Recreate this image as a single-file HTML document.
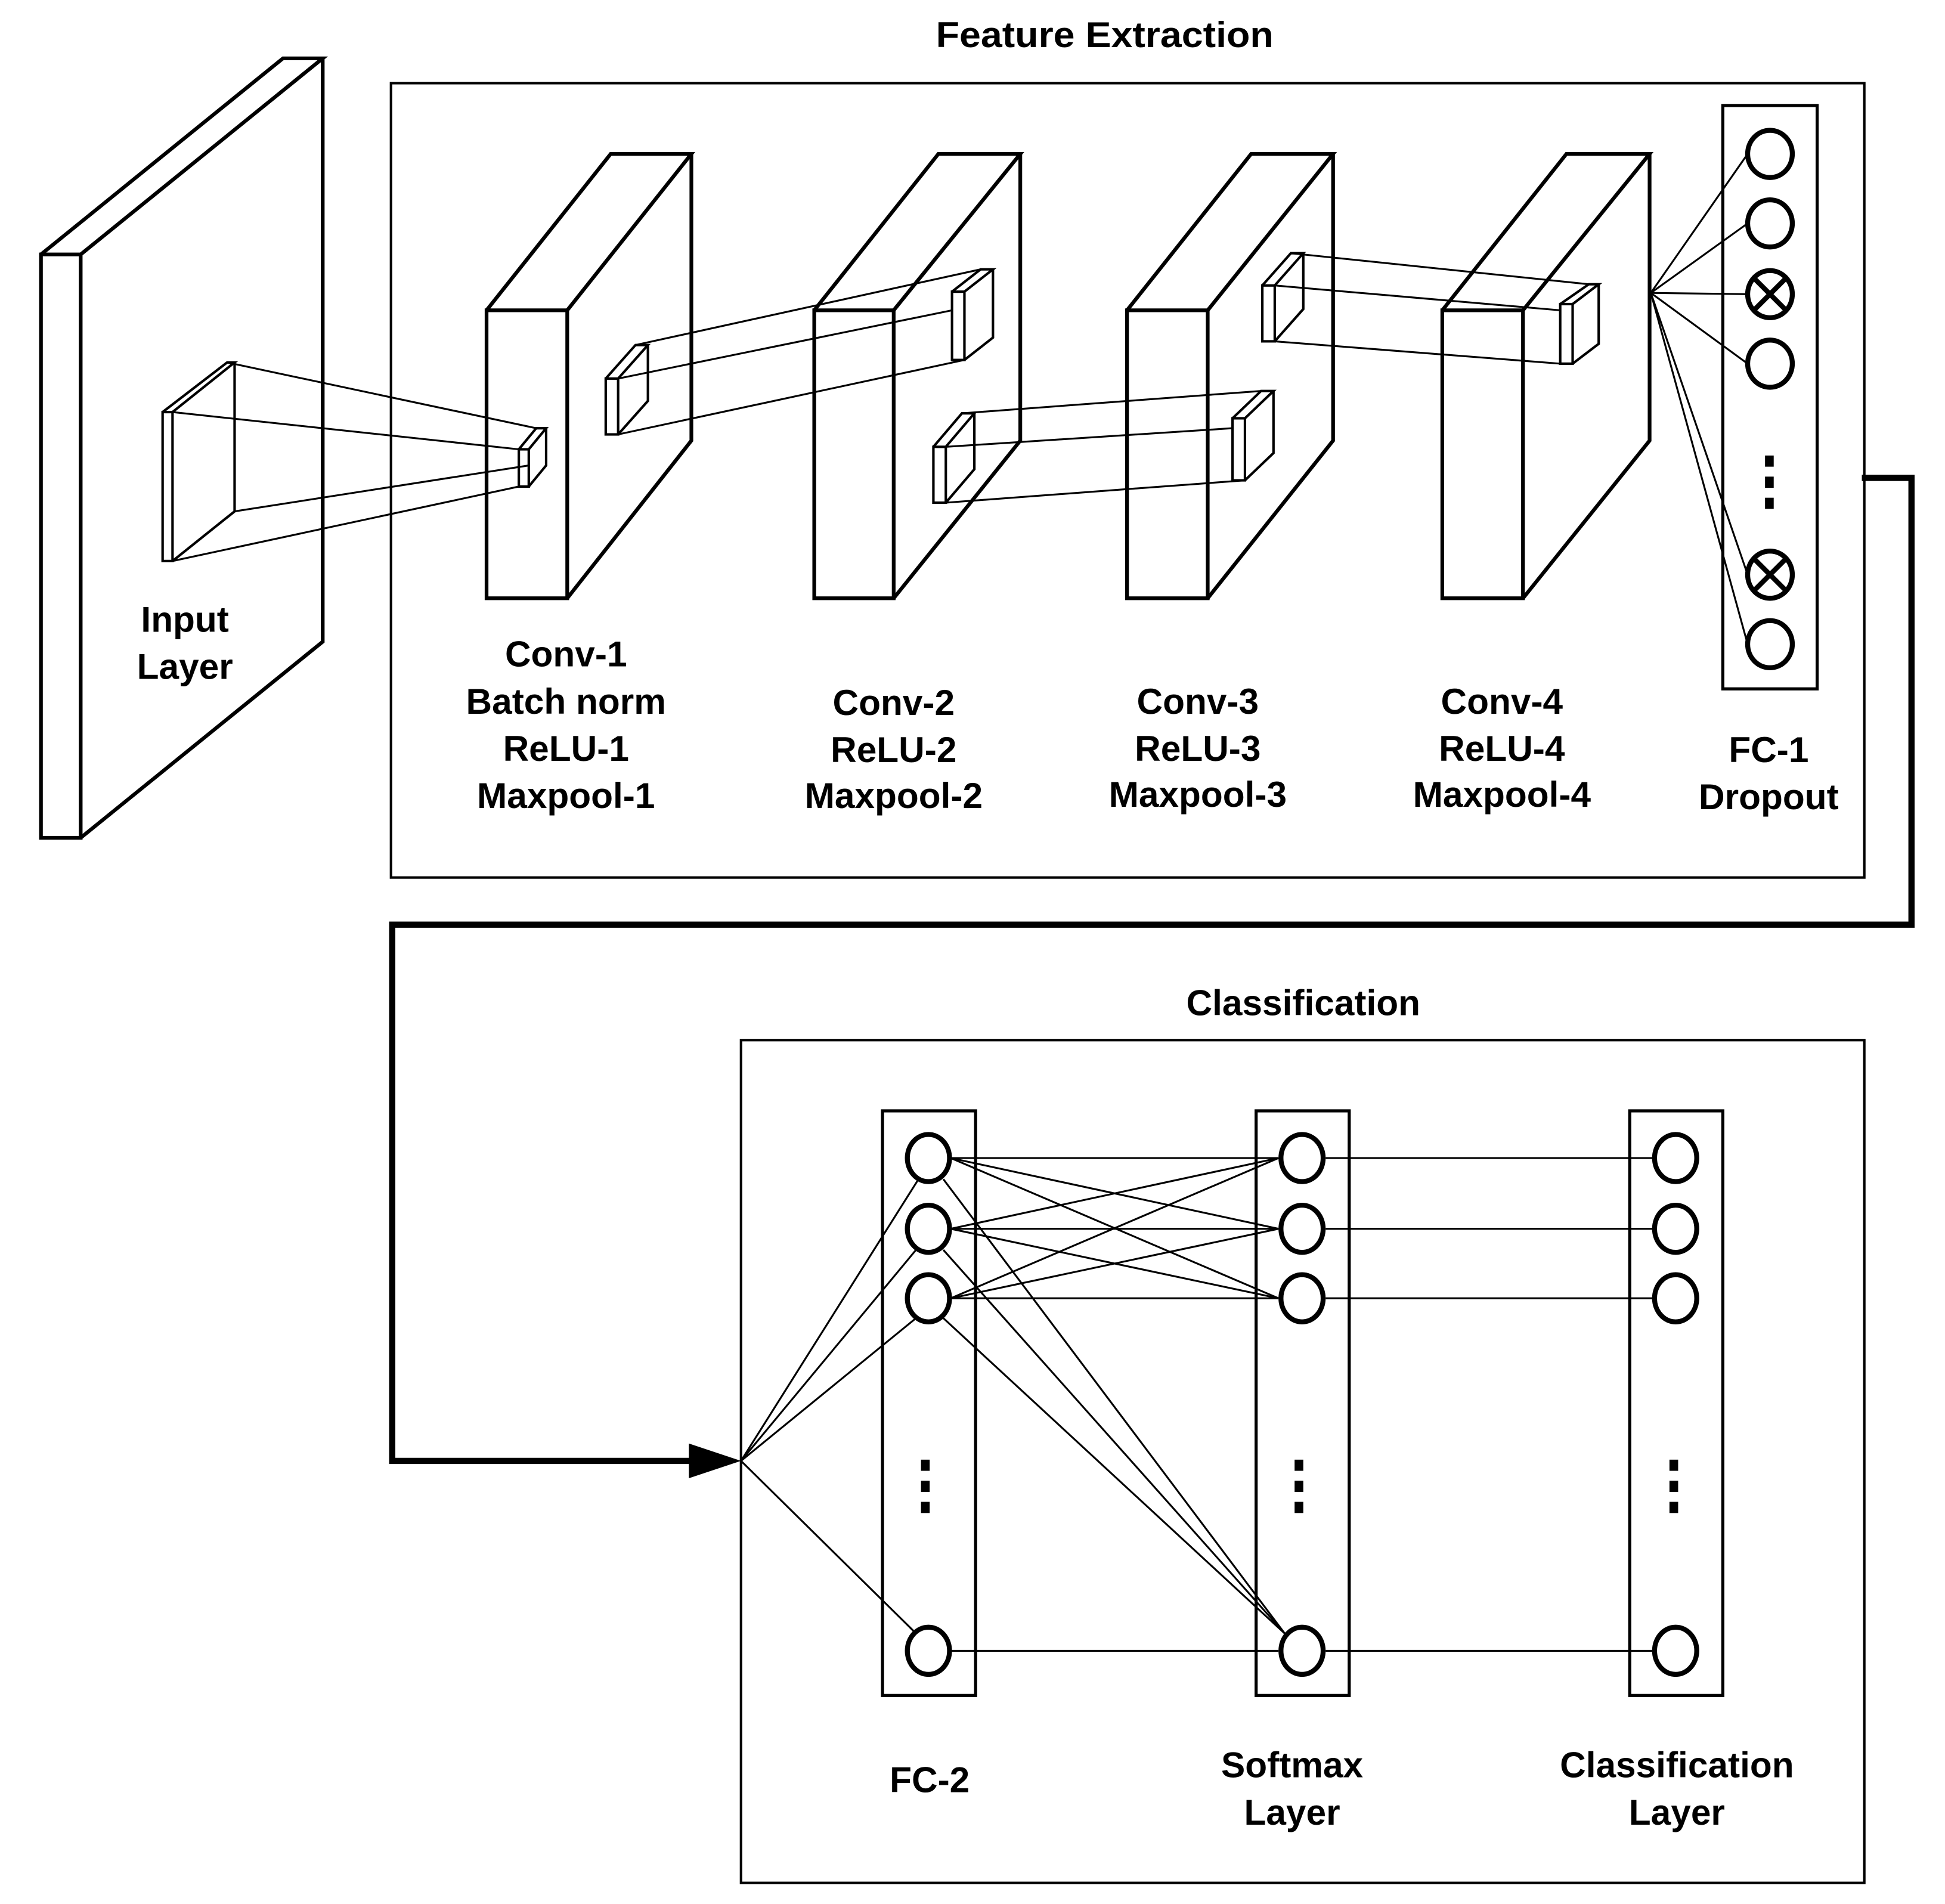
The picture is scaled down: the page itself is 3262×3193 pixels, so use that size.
<!DOCTYPE html>
<html><head><meta charset="utf-8"><style>html,body{margin:0;padding:0;background:#fff}svg{display:block}</style></head>
<body>
<svg width="3262" height="3193" viewBox="0 0 1567 1534" preserveAspectRatio="none" xmlns="http://www.w3.org/2000/svg">
<rect width="1567" height="1534" fill="#fff"/>
<g font-family="Liberation Sans, sans-serif" font-weight="bold" font-size="29" text-anchor="middle" fill="#000">
<text x="890" y="38" textLength="272" lengthAdjust="spacingAndGlyphs">Feature Extraction</text>
<text x="1050" y="818">Classification</text>
<text x="149" y="509">Input</text><text x="149" y="547">Layer</text>
<text x="456" y="537">Conv-1</text><text x="456" y="575">Batch norm</text><text x="456" y="613">ReLU-1</text><text x="456" y="651">Maxpool-1</text>
<text x="720" y="576">Conv-2</text><text x="720" y="614">ReLU-2</text><text x="720" y="651">Maxpool-2</text>
<text x="965" y="575">Conv-3</text><text x="965" y="613">ReLU-3</text><text x="965" y="650">Maxpool-3</text>
<text x="1210" y="575">Conv-4</text><text x="1210" y="613">ReLU-4</text><text x="1210" y="650">Maxpool-4</text>
<text x="1425" y="614">FC-1</text><text x="1425" y="652">Dropout</text>
<text x="749" y="1444">FC-2</text>
<text x="1041" y="1432">Softmax</text><text x="1041" y="1470">Layer</text>
<text x="1351" y="1432">Classification</text><text x="1351" y="1470">Layer</text>
</g>
<g fill="none" stroke="#000" stroke-linejoin="miter">
<rect x="315" y="67" width="1187" height="640" stroke-width="2"/>
<rect x="597" y="838" width="905" height="679" stroke-width="2"/>
<g stroke-width="3"><rect x="33" y="205" width="32" height="470"/><polyline points="33,205 228,47 260,47 65,205"/><polyline points="260,47 260,517 65,675"/></g>
<g stroke-width="3">
<rect x="392" y="250" width="65" height="232"/><polyline points="392,250 492,124 557,124 457,250"/><polyline points="557,124 557,355 457,482"/>
<rect x="656" y="250" width="64" height="232"/><polyline points="656,250 756,124 822,124 720,250"/><polyline points="822,124 822,355 720,482"/>
<rect x="908" y="250" width="65" height="232"/><polyline points="908,250 1008,124 1074,124 973,250"/><polyline points="1074,124 1074,355 973,482"/>
<rect x="1162" y="250" width="65" height="232"/><polyline points="1162,250 1262,124 1329,124 1227,250"/><polyline points="1329,124 1329,355 1227,482"/>
</g>
<g stroke-width="2">
<rect x="131" y="332" width="8" height="120"/><polyline points="131,332 183,292 189,292 139,332"/><polyline points="189,292 189,412 139,452"/>
<rect x="418" y="362" width="8" height="30"/><polyline points="418,362 432,345 440,345 426,362"/><polyline points="440,345 440,375 426,392"/>
<rect x="488" y="305" width="10" height="45"/><polyline points="488,305 512,278 522,278 498,305"/><polyline points="522,278 522,323 498,350"/>
<rect x="767" y="235" width="10" height="55"/><polyline points="767,235 790,217 800,217 777,235"/><polyline points="800,217 800,272 777,290"/>
<rect x="752" y="360" width="10" height="45"/><polyline points="752,360 775,333 785,333 762,360"/><polyline points="785,333 785,378 762,405"/>
<rect x="993" y="337" width="10" height="50"/><polyline points="993,337 1016,315 1026,315 1003,337"/><polyline points="1026,315 1026,365 1003,387"/>
<rect x="1017" y="230" width="10" height="45"/><polyline points="1017,230 1040,204 1050,204 1027,230"/><polyline points="1050,204 1050,249 1027,275"/>
<rect x="1257" y="245" width="10" height="48"/><polyline points="1257,245 1280,229 1288,229 1267,245"/><polyline points="1288,229 1288,277 1267,293"/>
</g>
<g stroke-width="1.5">
<line x1="183" y1="292" x2="432" y2="345"/><line x1="139" y1="332" x2="418" y2="362"/><line x1="189" y1="412" x2="426" y2="375"/><line x1="139" y1="452" x2="418" y2="392"/>
<line x1="512" y1="278" x2="790" y2="217"/><line x1="498" y1="305" x2="767" y2="250"/><line x1="498" y1="350" x2="777" y2="290"/>
<line x1="775" y1="333" x2="1016" y2="315"/><line x1="762" y1="360" x2="993" y2="345"/><line x1="762" y1="405" x2="1003" y2="387"/>
<line x1="1040" y1="204" x2="1280" y2="229"/><line x1="1027" y1="230" x2="1257" y2="250"/><line x1="1027" y1="275" x2="1257" y2="293"/>
</g>
<rect x="1388" y="85" width="76" height="470" stroke-width="2.5"/>
<g stroke-width="1.5">
<line x1="1330" y1="236" x2="1408" y2="124"/><line x1="1330" y1="236" x2="1408" y2="180"/><line x1="1330" y1="236" x2="1408" y2="237"/><line x1="1330" y1="236" x2="1408" y2="293"/><line x1="1330" y1="236" x2="1408" y2="463"/><line x1="1330" y1="236" x2="1408" y2="519"/>
</g>
<g stroke-width="4" fill="#fff">
<ellipse cx="1426" cy="124" rx="18" ry="19"/><ellipse cx="1426" cy="180" rx="18" ry="19"/><ellipse cx="1426" cy="237" rx="18" ry="19"/><ellipse cx="1426" cy="293" rx="18" ry="19"/><ellipse cx="1426" cy="463" rx="18" ry="19"/><ellipse cx="1426" cy="519" rx="18" ry="19"/>
</g>
<g stroke-width="4"><line x1="1414" y1="225" x2="1438" y2="249"/><line x1="1438" y1="225" x2="1414" y2="249"/><line x1="1414" y1="451" x2="1438" y2="475"/><line x1="1438" y1="451" x2="1414" y2="475"/></g>
<polyline points="1500,385 1540,385 1540,745 316,745 316,1177 560,1177" stroke-width="5"/>
</g>
<polygon points="555,1163 597,1177 555,1191" fill="#000"/>
<g fill="#000"><rect x="1422" y="367" width="7" height="9"/><rect x="1422" y="384" width="7" height="9"/><rect x="1422" y="401" width="7" height="9"/>
<rect x="742" y="1176" width="7" height="9"/><rect x="742" y="1193" width="7" height="9"/><rect x="742" y="1210" width="7" height="9"/>
<rect x="1043" y="1176" width="7" height="9"/><rect x="1043" y="1193" width="7" height="9"/><rect x="1043" y="1210" width="7" height="9"/>
<rect x="1345" y="1176" width="7" height="9"/><rect x="1345" y="1193" width="7" height="9"/><rect x="1345" y="1210" width="7" height="9"/></g>
<g fill="none" stroke="#000">
<rect x="711" y="895" width="75" height="471" stroke-width="2.5"/><rect x="1012" y="895" width="75" height="471" stroke-width="2.5"/><rect x="1313" y="895" width="75" height="471" stroke-width="2.5"/>
<g stroke-width="1.5">
<line x1="597" y1="1177" x2="740" y2="950"/><line x1="597" y1="1177" x2="738" y2="1007"/><line x1="597" y1="1177" x2="738" y2="1062"/><line x1="597" y1="1177" x2="738" y2="1316"/>
<line x1="766" y1="933" x2="1030" y2="933"/><line x1="766" y1="933" x2="1030" y2="990"/><line x1="766" y1="933" x2="1030" y2="1046"/>
<line x1="766" y1="990" x2="1030" y2="933"/><line x1="766" y1="990" x2="1030" y2="990"/><line x1="766" y1="990" x2="1030" y2="1046"/>
<line x1="766" y1="1046" x2="1030" y2="933"/><line x1="766" y1="1046" x2="1030" y2="990"/><line x1="766" y1="1046" x2="1030" y2="1046"/>
<line x1="760" y1="950" x2="1035" y2="1316"/><line x1="760" y1="1007" x2="1035" y2="1316"/><line x1="760" y1="1062" x2="1035" y2="1316"/>
<line x1="766" y1="1330" x2="1030" y2="1330"/>
<line x1="1068" y1="933" x2="1332" y2="933"/><line x1="1068" y1="990" x2="1332" y2="990"/><line x1="1068" y1="1046" x2="1332" y2="1046"/><line x1="1068" y1="1330" x2="1332" y2="1330"/>
</g>
<g stroke-width="4" fill="#fff">
<ellipse cx="748" cy="933" rx="17" ry="19"/><ellipse cx="748" cy="990" rx="17" ry="19"/><ellipse cx="748" cy="1046" rx="17" ry="19"/><ellipse cx="748" cy="1330" rx="17" ry="19"/>
<ellipse cx="1049" cy="933" rx="17" ry="19"/><ellipse cx="1049" cy="990" rx="17" ry="19"/><ellipse cx="1049" cy="1046" rx="17" ry="19"/><ellipse cx="1049" cy="1330" rx="17" ry="19"/>
<ellipse cx="1350" cy="933" rx="17" ry="19"/><ellipse cx="1350" cy="990" rx="17" ry="19"/><ellipse cx="1350" cy="1046" rx="17" ry="19"/><ellipse cx="1350" cy="1330" rx="17" ry="19"/>
</g>
</g>
</svg>
</body></html>
